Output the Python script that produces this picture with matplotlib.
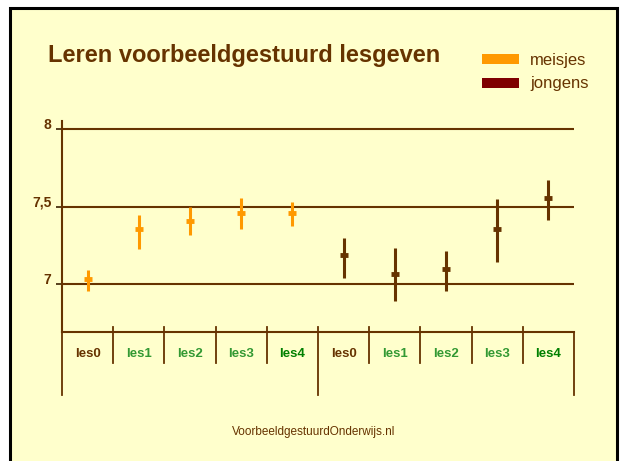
import matplotlib
matplotlib.use("Agg")
import matplotlib.pyplot as plt
from matplotlib.patches import Rectangle

plt.rcParams['font.family'] = ['Liberation Sans', 'DejaVu Sans']

# ---- data ----
lessons = ['les0', 'les1', 'les2', 'les3', 'les4']
series = ['meisjes', 'jongens']
meisjes_mean = [7.035, 7.358, 7.405, 7.455, 7.455]
meisjes_low = [6.955, 7.229, 7.315, 7.354, 7.373]
meisjes_high = [7.089, 7.444, 7.498, 7.558, 7.530]
jongens_mean = [7.186, 7.063, 7.097, 7.358, 7.556]
jongens_low = [7.039, 6.888, 6.955, 7.142, 7.412]
jongens_high = [7.300, 7.233, 7.216, 7.547, 7.672]
yticks = [7, 7.5, 8]
ytick_labels = ['7', '7,5', '8']
title = 'Leren voorbeeldgestuurd lesgeven'
footer = 'VoorbeeldgestuurdOnderwijs.nl'

BROWN = '#663300'
ORANGE = '#FF9900'
MAROON = '#7F0000'
BG = '#FFFFCC'
label_colors = [BROWN, '#339933', '#339933', '#339933', '#008000']

W, H = 621, 461
fig = plt.figure(figsize=(W / 100, H / 100), dpi=100, facecolor='white')

def fx(px):
    return px / W

def fy(py):
    return 1 - py / H

# frame
fig.add_artist(Rectangle((fx(9.5), fy(470)), fx(617) - fx(9.5), fy(7.5) - fy(470),
                         transform=fig.transFigure, facecolor=BG, edgecolor='black',
                         lw=2.2, zorder=0))

ax = fig.add_axes([fx(62), fy(331.7), fx(574) - fx(62), fy(120.7) - fy(331.7)])
ax.set_facecolor('none')
ax.set_xlim(0, 10)
ax.set_ylim(6.692, 8.054)

for v in yticks:
    ax.axhline(v, color=BROWN, lw=1.5, zorder=1)

for s in ['top', 'right']:
    ax.spines[s].set_visible(False)
for s in ['left', 'bottom']:
    ax.spines[s].set_color(BROWN)
    ax.spines[s].set_linewidth(1.5)

ax.set_yticks(yticks)
ax.set_yticklabels(ytick_labels, fontweight='bold', fontsize=10, color=BROWN)
ax.tick_params(axis='y', length=4, width=1.2, color='#3a2000', pad=3.5)
for lab in ax.get_yticklabels():
    lab.set_va('baseline')

n = len(lessons)
xpos_all = [i + 0.5 for i in range(2 * n)]
ax.set_xticks(xpos_all)
ax.set_xticklabels(lessons + lessons, fontweight='bold', fontsize=9.5)
for i, lab in enumerate(ax.get_xticklabels()):
    lab.set_color(label_colors[i % n])
ax.tick_params(axis='x', length=0, pad=12)

# category dividers
axh = fy(120.7) - fy(331.7)
ah_px = axh * H
xt = ax.get_xaxis_transform()
for i in range(2 * n + 1):
    long = i in (0, n, 2 * n)
    bottom = -(395 - 331.7) / ah_px if long else -(363 - 331.7) / ah_px
    top = 5 / ah_px if i not in (0, 2 * n) else 0
    ax.plot([i, i], [bottom, top], transform=xt, color=BROWN, lw=1.3,
            clip_on=False, zorder=2)

def draw(xs, mean, low, high, color):
    yerr = [[m - l for m, l in zip(mean, low)], [h - m for m, h in zip(mean, high)]]
    ax.errorbar(xs, mean, yerr=yerr, fmt='none', ecolor=color, elinewidth=2.2,
                capsize=0, zorder=3)
    ax.plot(xs, mean, linestyle='none', marker='_', markersize=6,
            markeredgewidth=3.5, color=color, zorder=4)

draw(xpos_all[:n], meisjes_mean, meisjes_low, meisjes_high, ORANGE)
draw(xpos_all[n:], jongens_mean, jongens_low, jongens_high, BROWN)

# title
fig.text(fx(48), fy(62), title, fontsize=17, fontweight='bold', color=BROWN,
         va='baseline', ha='left')

# legend
for i, (name, col) in enumerate(zip(series, [ORANGE, MAROON])):
    top_px = 54 + i * 24
    fig.add_artist(Rectangle((fx(482), fy(top_px + 10.3)), fx(519) - fx(482),
                             fy(top_px) - fy(top_px + 10.3),
                             transform=fig.transFigure, facecolor=col, edgecolor='none'))
    fig.text(fx(530), fy(65 + i * 23), name, fontsize=12, color=BROWN,
             va='baseline', ha='left')

fig.text(fx(314), fy(432), footer, fontsize=8.5, color=BROWN, ha='center', va='center')

fig.savefig('out.png', dpi=100, facecolor='white')
